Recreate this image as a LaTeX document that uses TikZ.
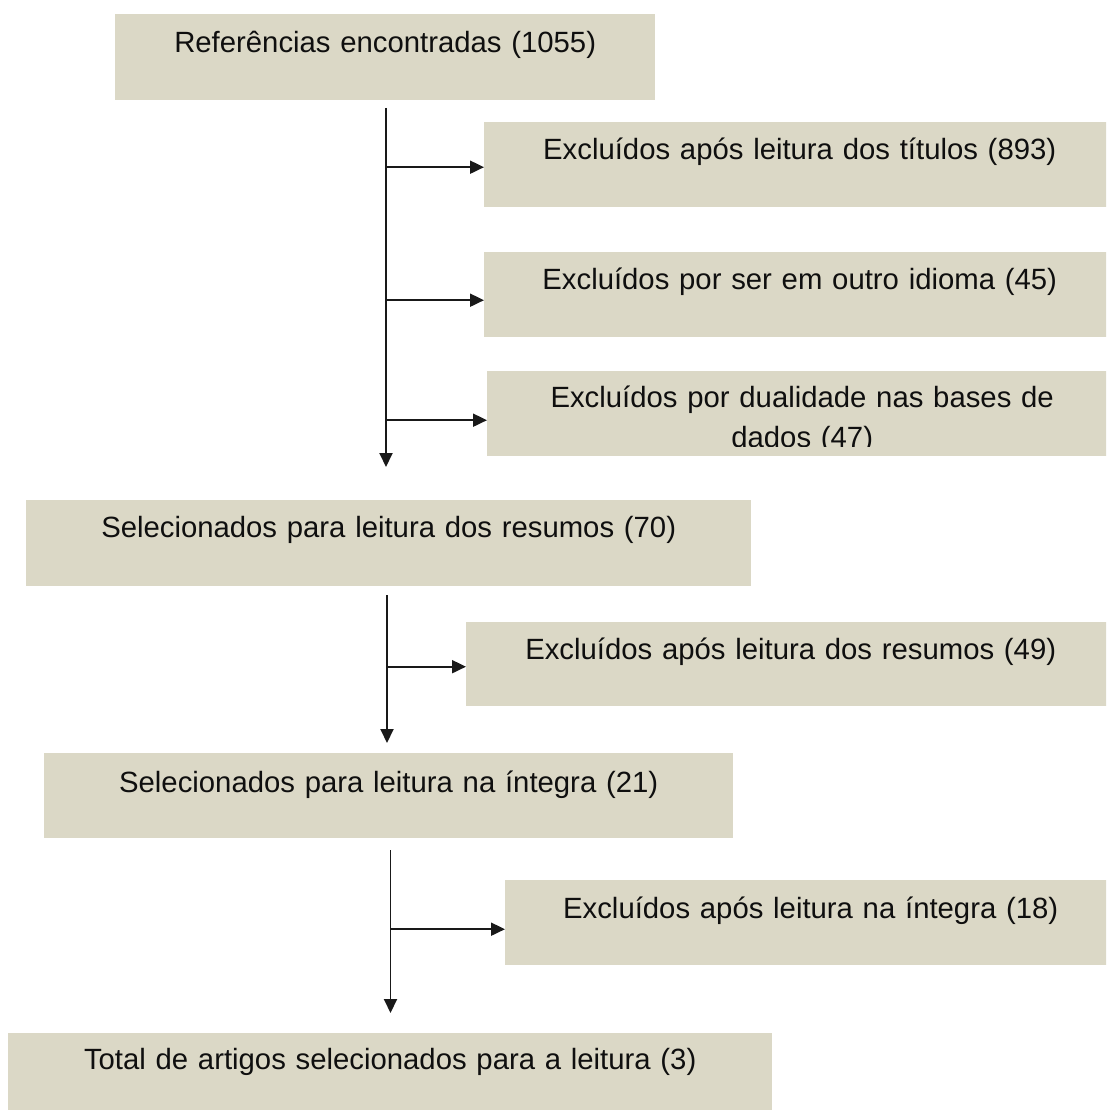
\documentclass[tikz,border=0pt]{standalone}
\usepackage{fontspec}
\setmainfont{Liberation Sans}
\usetikzlibrary{arrows.meta}
\definecolor{boxc}{RGB}{219,216,198}
\definecolor{linec}{RGB}{25,25,25}
\definecolor{textc}{RGB}{15,15,15}
\tikzset{
  box/.style={fill=boxc, draw=none, anchor=north west, inner sep=0pt, align=center,
    text=textc, font=\fontsize{29.3}{40}\selectfont},
  txtbox/.style={draw=none, anchor=north west, inner sep=0pt, align=center,
    text=textc, font=\fontsize{29.3}{40}\selectfont},
  conn/.style={draw=linec, line width=1.9pt},
  arr/.style={conn, -{Triangle[length=14pt,width=13pt]}}
}
\begin{document}
\begin{tikzpicture}[x=1pt,y=-1pt]
\useasboundingbox (0,0) rectangle (1106,1110);
\clip (0,0) rectangle (1106,1110);
\fill[white] (0,0) rectangle (1106,1110);
% boxes
\node[box, text width=540pt, text height=38pt, text depth=48pt] (b1) at (115,14) {Referências encontradas (1055)};
\node[box, text width=631pt, text height=37pt, text depth=48pt] (b2) at (484,122) {Excluídos após leitura dos títulos (893)};
\node[box, text width=631pt, text height=37pt, text depth=48pt] (b3) at (484,252) {Excluídos por ser em outro idioma (45)};
\node[box, minimum width=630pt, minimum height=85pt] (b4) at (487,371) {};
\begin{scope}
  \clip (487,371) rectangle (1117,446);
  \node[txtbox, text width=630pt, text height=36pt, text depth=49pt] (t4) at (487,371) {Excluídos por dualidade nas bases de\\dados (47)};
\end{scope}
\node[box, text width=725pt, text height=37pt, text depth=49pt] (b5) at (26,500) {Selecionados para leitura dos resumos (70)};
\node[box, text width=649pt, text height=37pt, text depth=47pt] (b6) at (466,622) {Excluídos após leitura dos resumos (49)};
\node[box, text width=689pt, text height=39pt, text depth=46pt] (b7) at (44,753) {Selecionados para leitura na íntegra (21)};
\node[box, text width=611pt, text height=38pt, text depth=47pt] (b8) at (505,880) {Excluídos após leitura na íntegra (18)};
\node[box, text width=764pt, text height=36pt, text depth=54pt] (b9) at (8,1033) {Total de artigos selecionados para a leitura (3)};
% connectors
\coordinate (s1) at (386,108);
\coordinate (e1) at (386,467);
\coordinate (j2) at ([yshift=-2.5pt]b2.west);
\coordinate (j3) at ([yshift=-5.5pt]b3.west);
\coordinate (j4) at ([yshift=-6.5pt]b4.west);
\draw[arr] (s1) -- (e1);
\draw[arr] (j2 -| s1) -- (j2);
\draw[arr] (j3 -| s1) -- (j3);
\draw[arr] (j4 -| s1) -- (j4);
\coordinate (s2) at (387,595);
\coordinate (e2) at (387,743);
\coordinate (j6) at ([yshift=-2.5pt]b6.west);
\draw[arr] (s2) -- (e2);
\draw[arr] (j6 -| s2) -- (j6);
\coordinate (s3) at (390.5,850);
\coordinate (e3) at (390.5,1013);
\coordinate (j8) at ([yshift=-6.5pt]b8.west);
\draw[arr] (s3) -- (e3);
\draw[arr] (j8 -| s3) -- (j8);
\end{tikzpicture}
\end{document}
